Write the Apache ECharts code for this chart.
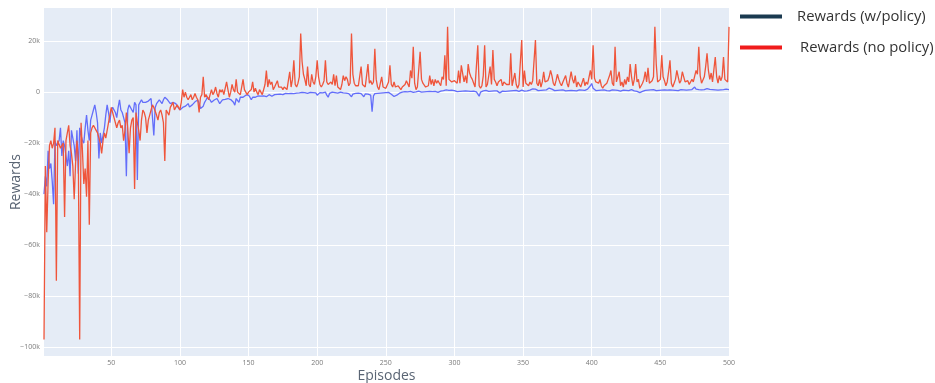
<!DOCTYPE html>
<html>
<head>
<meta charset="utf-8">
<script src="https://cdn.jsdelivr.net/npm/echarts@6/dist/echarts.min.js"></script>
<style>
html,body{margin:0;padding:0;background:#fff;}
#c{width:935px;height:383px;}
</style>
</head>
<body>
<div id="c"></div>
<script>
// Rewards in thousands, episodes 1..500
const noPolicyK = [
-97,-29,-55,-35,-21,-19,-22,-20,-14,-74,
-19,-19,-22,-21,-20,-49,-19,-16,-13,-21,
-24,-29,-42,-28,-19,-26,-97,-12,-23,-36,
-30,-41,-19,-52,-16,-14,-13,-13,-15,-16,
-18,-20,-24,-19,-16,-18,-15,-12,-9,-6,
-8,-10,-12,-14,-12,-11,-14,-13,-19,-15,
-8,-14,-24,-14,-11,-10,-38,-8,-12,-15,
-19,-11,-7,-8,-10,-16,-11,-9,-7,-5,
-6,-6,-9,-11,-8,-7,-9,-12,-27,-7,
-8,-9,-6,-5,-4,-7,-6,-5,-6,-7,
-4,1,-2,0,-2,-3,-2,-1,-3,-2,
-0.5,-2,-3,-8,-2,-1,6,-2,-1,-0.5,
-3,-1,1,-1,0,2,-0.5,-2,1,0,
1,-1,-0.5,4,1,-2,0,3,1,0,
5,0,-0.5,-1,2,5,1,0,-1,0,
0,1,4,0,1.5,0,-1,1,0.5,-1,
1,3,8.5,2,5,3,4,1,2,1.5,
4.5,2,1.5,2,1,2,1.5,1,1.5,8,
2,5,12.5,3,2,3.5,6,23,12,7,
5,2.5,10,3,2,7,4,3,6,12.5,
6,3,2,3,4.5,12.5,4,3,2.5,4,
3,7,2.5,6.5,2,2.5,1,3,6.5,4.5,
6,5,2.5,3.5,23,7,3.5,2.5,2,2.5,
3,10,3,3.5,2,2.5,11,3.5,4.5,3,
4,17,5,2,1,1,6,2,2.5,1.5,
1,4,10.5,3,2,4,2,1.5,2.5,2,
1,2,1.5,3,4.5,4,2,8.5,5.5,17.8,
3.5,1,2,2.5,15.8,5,3.5,3,2,1.5,
2.5,6.5,3,5,2.5,5,3.5,4.5,3.5,2.5,
6,5,14.5,2.5,25.6,5,5,4,4.5,4.5,
4.5,3.5,8.5,3.5,10.5,11,4,6.5,3.5,11,
7.5,6,5,3.5,2,2.5,18.4,2.5,1.5,2.5,
6.5,18.4,2,3,3.5,10,3,16.5,5,4,
2.5,4,3.5,5,2.5,4,3.5,3,2.5,3,
15.2,2.5,2,7.5,3,1.5,3,3.5,20.4,2,
8.5,3.5,3,2.5,4,3,4.5,5,20.4,3.5,
2.5,5,2,4,8,4,3.5,4.5,6,8.5,
6.5,3.5,2.5,4.5,7,5,3.5,2.5,4,4,
6.5,3.5,2,5,8,5,3.5,6.5,2,4,
3,2,2.5,5.5,2.5,4,3,2.5,8.5,5,
18.4,5.5,4,4.5,3.5,5,2.5,1.5,2.5,2,
3.5,5,6.5,8.5,3.5,2.5,17.8,4,6,8,
2.5,4,2,5,3,6,4,11,6,2.5,
5,11,4,5,1.5,2.5,3.5,5,8,4,
9.5,3.5,4,4.5,6,25.6,11,4,3.5,5,
14.5,6,4.5,2.5,4,8,12.5,3.5,2,3.5,
5,8.5,6,3.5,4.5,8,6,4,3.5,4.5,
3,3.5,5,4,3.5,8.5,7,17.8,6.5,3.5,
4,6,10,15.2,8.5,5,7.5,4,3.5,13.8,
6,3.5,6.5,4.5,6,13.8,5,4.5,4,25.6
];
const withPolicyK = [
-40,-33,-37,-23,-30,-28,-35,-44,-19,-21,
-20,-19,-14,-25,-19,-21,-25,-29,-23,-33,
-15,-18,-21,-27,-15,-32,-14,-17,-19,-20,
-14,-9,-15,-19,-11,-9,-7,-5,-8,-12,
-26,-16,-20,-17,-14,-9,-5,-8,-12,-7,
-6,-6.5,-8,-10,-6,-3,-7,-8,-10,-12,
-33,-7,-5,-4.5,-7,-8,-4,-5,-34.5,-5,
-4.5,-3,-4,-4.5,-4,-3.8,-3.5,-3,-2.5,-2.5,
-17,-6,-4.5,-4,-3,-3.5,-4.5,-3,-2,-2.5,
-3,-3.5,-4.5,-5,-4,-3.8,-4.5,-5.5,-6,-7,
-6.5,-6,-5.5,-5.5,-5,-4.5,-5.8,-5.5,-5,-4.5,
-3.8,-3.5,-3.1,-4.5,-6.4,-5.8,-5.5,-4,-3.1,-2,
-2.5,-3.1,-4,-4.5,-3.1,-2.8,-2.5,-3.5,-4.5,-3.8,
-3,-2.5,-2.8,-3.1,-2.5,-2.7,-2.9,-3.1,-4,-5.1,
-2.5,-2,-4,-2,-1.8,-2,-1.5,-1.2,-1.5,-1.2,
-2,-3,-2,-1.5,-2,-1.8,-1.5,-2,-1.6,-1.4,
-1.5,-1.2,-1.8,-1.4,-1,-1.3,-1.6,-1.2,-1,-1.1,
-0.9,-1.2,-0.8,-0.6,-1,-0.7,-0.5,-0.8,-0.6,-0.4,
-0.5,-0.3,-0.6,-0.2,-0.4,0,-0.3,-0.5,-0.1,-0.4,
-0.2,0,-0.5,-0.3,-0.1,-0.6,-0.2,0.1,-0.3,-1.2,
-0.5,-0.2,0.2,-0.3,-0.1,0,-1.2,-2,-0.5,-0.2,
0,-0.3,-0.2,0.1,-0.4,-0.2,0,-0.5,-0.3,-0.1,
-0.4,-0.2,-0.6,-1,-1.8,-0.8,-0.3,-0.5,-0.2,-0.4,
-0.3,-0.6,-1,-1.8,-0.7,-0.4,-0.8,-0.5,-1.2,-7.7,
-1.5,-0.6,-0.3,-0.5,-0.2,-0.4,-0.1,-0.3,-0.6,-0.2,
-0.3,-0.1,-0.5,-0.8,-1.3,-1.7,-1.5,-1.2,-0.6,-0.4,
-0.2,0,-0.3,0.2,-0.1,0.1,-0.2,0.3,0,-0.1,
0.2,0.1,-0.2,0.4,0.2,0,0.3,0.1,0.5,0.2,
0,0.3,0.1,0.2,0,0.3,0.1,-0.1,0.2,0.4,
0.3,0.6,0.5,0.9,1,0.7,1,0.8,0.5,0.6,
0.4,0.2,0.5,0.3,0.6,0.4,0.2,0.5,0.3,0.4,
0.5,0.3,0.6,0.4,0.2,0.1,-0.5,-1.6,0,0.3,
0.5,0.4,0.7,0.5,0.3,0.6,0.4,0.8,0.5,0.3,
0.5,0.2,-0.3,0.1,0.4,0.6,0.3,0.5,0.4,0.7,
0.5,0.8,0.6,0.4,0.7,0.5,0.3,0.6,0.8,0.5,
0.4,0.7,0.5,0.6,0.8,1,1.3,2,1.2,0.8,
0.6,0.9,0.7,1,0.8,0.5,0.9,1.2,1.6,2,
1.2,0.8,0.6,0.9,0.7,1,0.8,0.6,0.9,0.7,
0.5,0.8,0.6,0.4,0.7,0.9,0.6,0.8,0.5,0.7,
0.9,0.6,0.8,1,0.7,0.9,1.2,1.8,2.5,3.4,
1.5,0.8,0.6,0.9,0.7,0.5,0.8,0.6,0.9,0.7,
0.6,0.8,0.5,0.7,0.9,0.6,0.8,0.5,0.7,0.6,
0.4,0.6,0.8,0.5,0.7,0.9,0.6,0.8,1,0.7,
0.5,0.6,0.3,0.1,-0.2,0,0.3,0.5,0.7,0.6,
0.8,0.6,0.9,0.7,1,0.8,0.6,0.9,0.7,0.5,
0.8,0.6,0.9,1.1,0.8,0.7,0.9,0.6,0.8,1,
0.7,0.9,0.6,0.8,1,0.7,0.9,1.1,0.8,0.6,
0.9,0.7,1,1.5,2,1.2,0.8,1,0.7,0.9,
0.8,1,0.7,1.4,2,1.1,0.8,1,0.7,0.9,
1,0.8,1.1,0.9,0.7,1,0.8,1.2,0.9,1
];
const episodeTicks = [50, 100, 150, 200, 250, 300, 350, 400, 450, 500];
const rewardTicks = [-100, -80, -60, -40, -20, 0, 20];
const seriesNames = ['Rewards (w/policy)', 'Rewards (no policy)'];

const chart = echarts.init(document.getElementById('c'), null, {renderer: 'canvas'});
const toPairs = arr => arr.map((v, i) => [i + 1, v]);
const fmtK = v => v === 0 ? '0' : (v < 0 ? '\u2212' + Math.abs(v) + 'k' : v + 'k');

chart.setOption({
  animation: false,
  backgroundColor: '#ffffff',
  grid: {left: 44, right: 206, top: 8, bottom: 27, show: true, backgroundColor: '#E5ECF6', borderWidth: 0,
         containLabel: false, outerBoundsMode: 'none'},
  xAxis: {
    type: 'value', min: 1, max: 500,
    axisLine: {show: false},
    axisTick: {show: false, customValues: episodeTicks},
    axisLabel: {customValues: episodeTicks, fontSize: 7, color: '#7a7a7a', margin: 3, fontFamily: 'Open Sans'},
    splitLine: {show: true, lineStyle: {color: '#ffffff', width: 1}},
    name: 'Episodes', nameLocation: 'middle', nameGap: 13, nameMoveOverlap: false,
    nameTextStyle: {fontSize: 14, color: '#5a6574', fontFamily: 'Open Sans'}
  },
  yAxis: {
    type: 'value', min: -103.5, max: 33,
    axisLine: {show: false},
    axisTick: {show: false, customValues: rewardTicks},
    axisLabel: {customValues: rewardTicks, fontSize: 7, color: '#7a7a7a', margin: 4, fontFamily: 'Open Sans', formatter: fmtK},
    splitLine: {show: true, lineStyle: {color: '#ffffff', width: 1}},
    name: 'Rewards', nameLocation: 'middle', nameGap: 21, nameMoveOverlap: false,
    nameTextStyle: {fontSize: 14, color: '#5a6574', fontFamily: 'Open Sans'}
  },
  legend: [
    {
      left: 735, top: 4, icon: 'rect', itemWidth: 42, itemHeight: 4, selectedMode: false,
      data: [{name: seriesNames[0], itemStyle: {color: '#1b3a50'}}],
      textStyle: {fontSize: 14.8, color: '#333', fontFamily: 'Open Sans', padding: [0, 0, 0, 10]}
    },
    {
      left: 735, top: 35, icon: 'rect', itemWidth: 42, itemHeight: 4, selectedMode: false,
      data: [{name: seriesNames[1], itemStyle: {color: '#f01c1c'}}],
      textStyle: {fontSize: 14.8, color: '#333', fontFamily: 'Open Sans', padding: [0, 0, 0, 13]}
    }
  ],
  series: [
    {
      name: seriesNames[0], type: 'line', data: toPairs(withPolicyK),
      showSymbol: false, symbol: 'none',
      lineStyle: {color: '#636efa', width: 1.3}, itemStyle: {color: '#636efa'}
    },
    {
      name: seriesNames[1], type: 'line', data: toPairs(noPolicyK),
      showSymbol: false, symbol: 'none',
      lineStyle: {color: '#ef553b', width: 1.3}, itemStyle: {color: '#ef553b'}
    }
  ]
});
</script>
</body>
</html>
